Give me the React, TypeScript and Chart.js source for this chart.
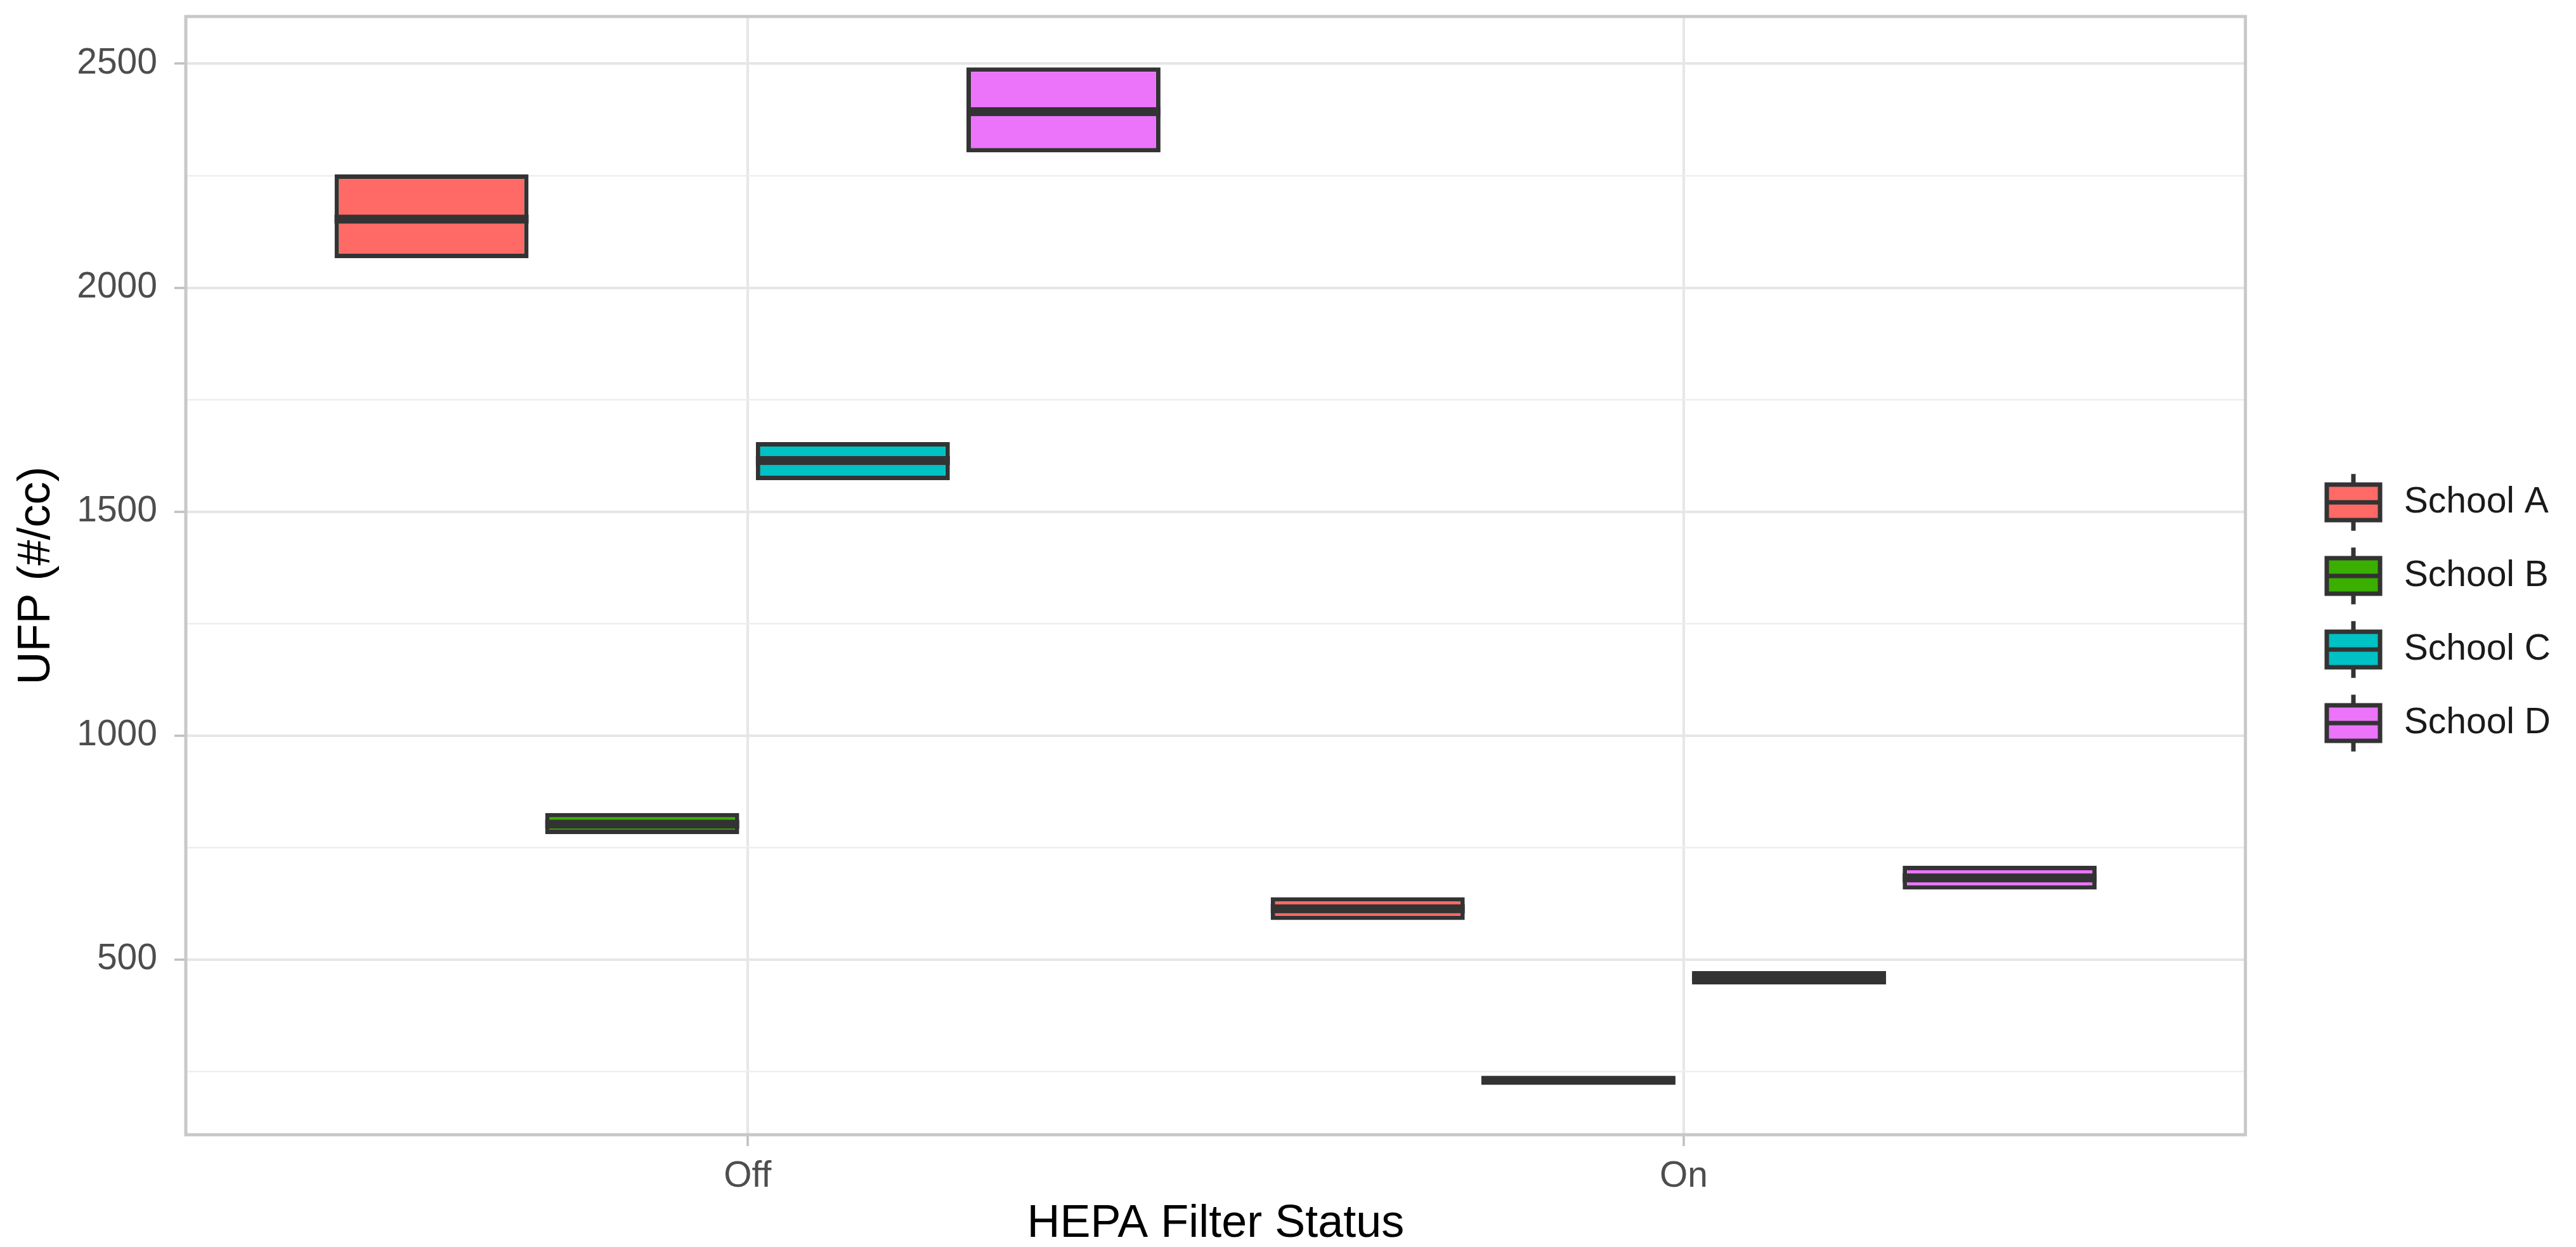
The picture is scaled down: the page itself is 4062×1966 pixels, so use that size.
import React, { useEffect, useRef } from 'react';
import { Chart, registerables } from 'chart.js';

Chart.register(...registerables);

// ---- data ----
const categories = ['Off', 'On'];
const schoolNames = ['School A', 'School B', 'School C', 'School D'];

const schoolAQ1 = [2066, 588];
const schoolAMedian = [2153, 613];
const schoolAQ3 = [2253, 639];

const schoolBQ1 = [780, 222];
const schoolBMedian = [802, 230];
const schoolBQ3 = [827, 238];

const schoolCQ1 = [1570, 444];
const schoolCMedian = [1614, 459];
const schoolCQ3 = [1655, 474];

const schoolDQ1 = [2302, 656];
const schoolDMedian = [2393, 682];
const schoolDQ3 = [2492, 709];

const yMajorTicks = [500, 1000, 1500, 2000, 2500];
const yMinorTicks = [250, 750, 1250, 1750, 2250];

// ---- styles ----
const fillColors = ['#FF6A66', '#3AAF00', '#00C1C4', '#EB74FB'];
const lineColor = '#333333';
const FONT = "'Liberation Sans', Arial, sans-serif";

const q1s = [schoolAQ1, schoolBQ1, schoolCQ1, schoolDQ1];
const medians = [schoolAMedian, schoolBMedian, schoolCMedian, schoolDMedian];
const q3s = [schoolAQ3, schoolBQ3, schoolCQ3, schoolDQ3];

function makeGlyph(fill: string): HTMLCanvasElement {
  const c = document.createElement('canvas');
  c.width = 160;
  c.height = 112;
  const g = c.getContext('2d')!;
  const cx = 110;
  const key = 112;
  g.strokeStyle = lineColor;
  g.lineWidth = 7;
  g.lineCap = 'butt';
  // whiskers
  g.beginPath();
  g.moveTo(cx, key * 0.1);
  g.lineTo(cx, key * 0.25);
  g.moveTo(cx, key * 0.75);
  g.lineTo(cx, key * 0.9);
  g.stroke();
  // box
  const x0 = cx - key * 0.375;
  const w = key * 0.75;
  g.fillStyle = fill;
  g.fillRect(x0, key * 0.25, w, key * 0.5);
  g.strokeRect(x0, key * 0.25, w, key * 0.5);
  // median
  g.beginPath();
  g.moveTo(x0, key * 0.5);
  g.lineTo(x0 + w, key * 0.5);
  g.stroke();
  return c;
}

export default function App() {
  const ref = useRef<HTMLCanvasElement>(null);

  useEffect(() => {
    const canvas = ref.current!;
    const nSeries = schoolNames.length;
    const dodge = 0.9;
    const offsetFor = (i: number) => (i - (nSeries - 1) / 2) * (dodge / nSeries);

    const allLow = q1s.flat();
    const allHigh = q3s.flat();
    const dMin = Math.min(...allLow);
    const dMax = Math.max(...allHigh);
    const span = dMax - dMin;
    const yMin = dMin - 0.05 * span;
    const yMax = dMax + 0.05 * span;

    const glyphs = fillColors.map(makeGlyph);

    const boxExtras = {
      id: 'boxExtras',
      afterDatasetsDraw(chart: any) {
        const ctx = chart.ctx;
        const yScale = chart.scales.y;
        ctx.save();
        ctx.fillStyle = lineColor;
        chart.data.datasets.forEach((_: any, i: number) => {
          const meta = chart.getDatasetMeta(i);
          meta.data.forEach((bar: any, j: number) => {
            const { x, width } = bar.getProps(['x', 'width'], true);
            const y = yScale.getPixelForValue(medians[i][j]);
            ctx.fillRect(x - width / 2, y - 7, width, 14);
          });
        });
        const a = chart.chartArea;
        ctx.strokeStyle = '#C8C8C8';
        ctx.lineWidth = 5;
        ctx.strokeRect(a.left, a.top, a.right - a.left, a.bottom - a.top);
        ctx.restore();
      },
    };

    const isMinor = (v: number) => yMinorTicks.includes(v);

    const chart = new Chart(canvas, {
      type: 'bar',
      data: {
        datasets: schoolNames.map((name, i) => ({
          label: name,
          data: categories.map((_, j) => ({ x: j + 1 + offsetFor(i), y: [q1s[i][j], q3s[i][j]] })),
          backgroundColor: fillColors[i],
          borderColor: lineColor,
          borderWidth: 7,
          borderSkipped: false,
          grouped: false,
          categoryPercentage: 1,
          barPercentage: 0.921,
        })) as any,
      },
      options: {
        responsive: false,
        animation: false,
        devicePixelRatio: 1,
        events: [],
        layout: { padding: { left: 0, top: 26, right: 30, bottom: 0 } },
        plugins: {
          tooltip: { enabled: false },
          legend: {
            display: true,
            position: 'right',
            fullSize: false,
            title: {
              display: true,
              text: ' ',
              color: 'rgba(0,0,0,0)',
              font: { size: 117, lineHeight: 1 },
              padding: 0,
            },
            labels: {
              usePointStyle: true,
              pointStyleWidth: 162.5,
              padding: 59,
              color: '#1A1A1A',
              font: { family: FONT, size: 57 },
              generateLabels: (ch: any) =>
                ch.data.datasets.map((ds: any, i: number) => ({
                  text: ds.label,
                  pointStyle: glyphs[i],
                  fillStyle: fillColors[i],
                  strokeStyle: lineColor,
                  lineWidth: 0,
                  hidden: false,
                  datasetIndex: i,
                  fontColor: '#1A1A1A',
                })),
            },
          },
        },
        scales: {
          x: {
            type: 'linear',
            min: 1 - 0.6,
            max: categories.length + 0.6,
            offset: false,
            grid: {
              offset: false,
              color: '#E6E6E6',
              lineWidth: 4,
              drawTicks: true,
              tickLength: 18,
              tickColor: '#BFBFBF',
              tickWidth: 3.5,
            },
            border: { display: false },
            afterBuildTicks: (scale: any) => {
              scale.ticks = categories.map((_, i) => ({ value: i + 1 }));
            },
            afterFit: (scale: any) => {
              scale.height = 177;
              scale.paddingLeft = 0;
              scale.paddingRight = 0;
            },
            ticks: {
              autoSkip: false,
              maxRotation: 0,
              padding: 14,
              color: '#4D4D4D',
              font: { family: FONT, size: 57 },
              callback: (v: any) => categories[Math.round(Number(v)) - 1] ?? '',
            },
            title: {
              display: true,
              text: 'HEPA Filter Status',
              color: '#000000',
              font: { family: FONT, size: 72, lineHeight: 1 },
              padding: { top: 0, bottom: 0 },
            },
          },
          y: {
            type: 'linear',
            min: yMin,
            max: yMax,
            grid: {
              color: (c: any) => (isMinor(c.tick?.value) ? '#EEEEEE' : '#E6E6E6'),
              lineWidth: (c: any) => (isMinor(c.tick?.value) ? 2.5 : 4),
              drawTicks: true,
              tickLength: 18,
              tickColor: (c: any) => (isMinor(c.tick?.value) ? 'rgba(0,0,0,0)' : '#BFBFBF'),
              tickWidth: 3.5,
            },
            border: { display: false },
            afterBuildTicks: (scale: any) => {
              scale.ticks = [...yMinorTicks, ...yMajorTicks]
                .sort((a, b) => a - b)
                .map((v) => ({ value: v }));
            },
            afterFit: (scale: any) => {
              scale.width = 293;
              scale.paddingTop = 0;
              scale.paddingBottom = 0;
            },
            ticks: {
              autoSkip: false,
              padding: 27,
              color: '#4D4D4D',
              font: { family: FONT, size: 57 },
              callback: (v: any) => (yMajorTicks.includes(Number(v)) ? String(v) : ''),
            },
            title: {
              display: true,
              text: 'UFP (#/cc)',
              color: '#000000',
              font: { family: FONT, size: 72, lineHeight: 1.2 },
              padding: { top: 15, bottom: 0 },
            },
          },
        },
      } as any,
      plugins: [boxExtras],
    });

    return () => chart.destroy();
  }, []);

  return (
    <div style={{ position: 'fixed', left: 0, top: 0, background: '#ffffff' }}>
      <canvas ref={ref} width={4062} height={1966} style={{ width: 4062, height: 1966, display: 'block' }} />
    </div>
  );
}
